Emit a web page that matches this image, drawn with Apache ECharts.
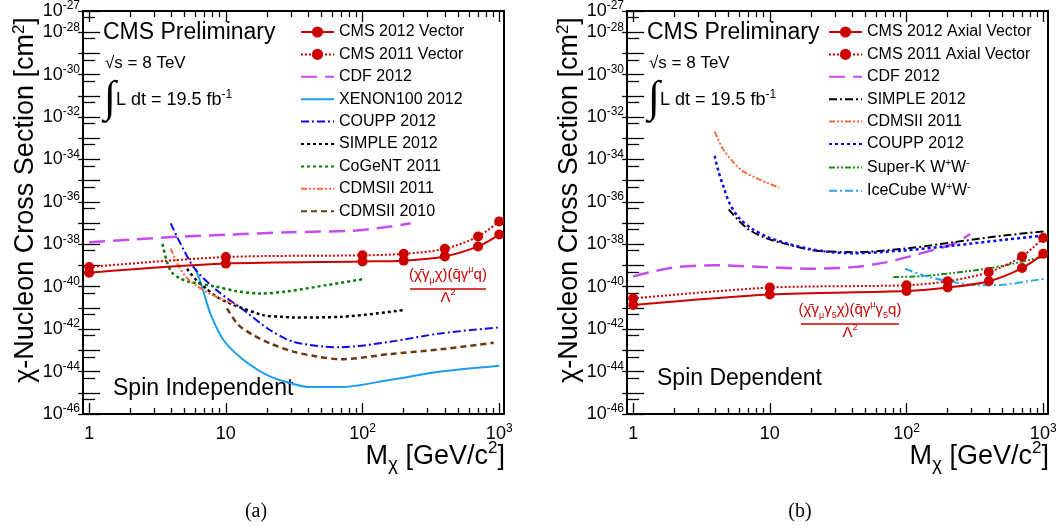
<!DOCTYPE html>
<html>
<head>
<meta charset="utf-8">
<script src="https://cdn.jsdelivr.net/npm/echarts@6.0.0/dist/echarts.min.js"></script>
<style>
  html, body { margin: 0; padding: 0; background: #fff; }
  #main { width: 1060px; height: 531px; }
</style>
</head>
<body>
<div id="main"></div>
<script type="text/javascript">
// x: dark matter mass [GeV], y: log10(cross section / cm^2)
var cmsMass = [1, 10, 100, 200, 400, 700, 1000];

// (a) spin independent
var siCms2012 = [-39.34, -38.91, -38.81, -38.77, -38.57, -38.10, -37.54];
var siCms2011 = [-39.07, -38.60, -38.52, -38.45, -38.21, -37.63, -36.92];
var siCdfMass = [1, 2, 5, 10, 30, 90, 160, 225];
var siCdf = [-37.90, -37.78, -37.63, -37.55, -37.43, -37.35, -37.16, -37.01];
var siXenonMass = [6, 6.7, 7.7, 9.6, 13.5, 21, 31, 41.5, 69, 160, 372, 1000];
var siXenon = [-39.15, -40.01, -41.26, -42.51, -43.45, -44.23, -44.58, -44.73, -44.73, -44.39, -44.0, -43.72];
var siCouppMass = [3.95, 5.8, 8.6, 13.5, 21, 31, 52, 69, 160, 372, 1000];
var siCoupp = [-37.01, -39.07, -40.17, -41.10, -42.04, -42.59, -42.82, -42.85, -42.59, -42.2, -41.92];
var siSimpleMass = [5.2, 6.1, 7.2, 8.6, 10.8, 18.8, 26, 31, 69, 200];
var siSimple = [-39.15, -39.70, -40.09, -40.48, -40.79, -41.34, -41.42, -41.45, -41.42, -41.10];
var siCogentMass = [3.44, 3.7, 4.0, 4.6, 5.5, 8.3, 11.7, 17.8, 28, 55, 100];
var siCogent = [-37.98, -38.8, -39.3, -39.6, -39.78, -39.98, -40.2, -40.32, -40.22, -39.92, -39.64];
var siCdms11Mass = [3.95, 4.5, 5.2, 6.1, 7.5, 9.6, 12];
var siCdms11 = [-38.2, -39.0, -39.6, -39.95, -40.3, -40.62, -40.85];
var siCdms10Mass = [10.2, 12.4, 15.9, 21, 31, 46.5, 69, 160, 372, 912];
var siCdms10 = [-41.02, -41.81, -42.28, -42.67, -43.06, -43.29, -43.42, -43.17, -42.95, -42.64];

// (b) spin dependent
var sdCms2012 = [-40.86, -40.37, -40.20, -40.04, -39.74, -39.12, -38.45];
var sdCms2011 = [-40.55, -40.04, -39.93, -39.74, -39.31, -38.57, -37.70];
var sdCdfMass = [1, 1.93, 4, 8.8, 19.3, 41, 72, 125, 220, 292];
var sdCdf = [-39.51, -39.10, -38.99, -39.07, -39.15, -39.07, -38.84, -38.44, -37.98, -37.51];
var sdSimpleMass = [5.0, 5.75, 7.0, 9.3, 13, 19.3, 23, 41, 95, 220, 510, 1050];
var sdSimple = [-36.35, -36.8, -37.3, -37.7, -37.98, -38.25, -38.32, -38.37, -38.21, -37.9, -37.59, -37.38];
var sdCdms11Mass = [3.95, 4.47, 5.3, 6.3, 7.8, 9.8, 11.7];
var sdCdms11 = [-32.69, -33.44, -34.07, -34.54, -34.85, -35.13, -35.32];
var sdCouppMass = [3.95, 4.2, 4.6, 5.1, 5.9, 7.4, 9.8, 13.7, 19.3, 28.5, 41, 95, 220, 510, 1050];
var sdCoupp = [-33.83, -34.54, -35.32, -36.10, -36.73, -37.27, -37.67, -37.98, -38.21, -38.37, -38.42, -38.29, -38.06, -37.79, -37.58];
var sdSuperKMass = [80, 125, 220, 386, 603, 950];
var sdSuperK = [-39.54, -39.51, -39.35, -39.15, -38.91, -38.62];
var sdIceCubeMass = [97.5, 140, 220, 345, 541, 847, 1050];
var sdIceCube = [-39.15, -39.51, -39.78, -39.93, -39.89, -39.70, -39.62];

// axis ticks (log10 units)
var xMajor = [0, 1, 2, 3];
var xMinor = [];
for (var d = 0; d < 3; d++) for (var k = 2; k <= 9; k++) xMinor.push(d + Math.log10(k));
var yMajor = [];
var yMinor = [];
for (var e = -46; e <= -27; e++) { yMajor.push(e); if (e < -27) yMinor.push(e + Math.log10(5)); }
var yLabels = [-46, -44, -42, -40, -38, -36, -34, -32, -30, -28, -27];

var FONT = '"Liberation Sans", Arial, Helvetica, sans-serif';
var RED = '#cc0000';
var X_MIN = -0.045, X_MAX = 3.035;

function pts(m, s) {
    return m.map(function (x, i) { return [Math.log10(x), s[i]]; });
}

function xAxes(g) {
    var base = function (pos, ticks, len, labels) {
        return {
            gridIndex: g, type: 'value', position: pos, min: X_MIN, max: X_MAX,
            axisLine: { show: false }, splitLine: { show: false },
            axisTick: { inside: true, length: len, customValues: ticks, lineStyle: { color: '#000', width: 1.3 } },
            axisLabel: labels ? {
                customValues: xMajor, margin: 9, color: '#000',
                formatter: function (v) {
                    var n = Math.round(v);
                    if (n === 0) return '{a|1}';
                    if (n === 1) return '{a|10}';
                    return '{a|10}{b|' + n + '}';
                },
                rich: {
                    a: { fontSize: 18, fontFamily: FONT, lineHeight: 22, color: '#000' },
                    b: { fontSize: 12, fontFamily: FONT, lineHeight: 12, verticalAlign: 'top', color: '#000' }
                }
            } : { show: false }
        };
    };
    return [base('bottom', xMajor, 11, true), base('bottom', xMinor, 6, false),
            base('top', xMajor, 11, false), base('top', xMinor, 6, false)];
}

function yAxes(g) {
    var base = function (pos, ticks, len, labels) {
        return {
            gridIndex: g, type: 'value', position: pos, min: -46, max: -27, interval: 1,
            axisLine: { show: false }, splitLine: { show: false },
            axisTick: { inside: true, length: len, customValues: ticks, lineStyle: { color: '#000', width: 1.3 } },
            axisLabel: labels ? {
                customValues: yLabels, margin: 3, color: '#000',
                formatter: function (v) { return '{a|10}{b|' + Math.round(v) + '}'; },
                rich: {
                    a: { fontSize: 18, fontFamily: FONT, lineHeight: 22, color: '#000' },
                    b: { fontSize: 12, fontFamily: FONT, lineHeight: 12, verticalAlign: 'top', color: '#000' }
                }
            } : { show: false }
        };
    };
    return [base('left', yMajor, 11, true), base('left', yMinor, 6, false),
            base('right', yMajor, 11, false), base('right', yMinor, 6, false)];
}

function line(name, g, m, s, color, width, dash, marks) {
    return {
        name: name, type: 'line', xAxisIndex: g * 4, yAxisIndex: g * 4,
        data: pts(m, s), smooth: 0.3,
        symbol: marks ? 'circle' : 'none', symbolSize: 10, showSymbol: !!marks,
        itemStyle: { color: color },
        lineStyle: { color: color, width: width, type: dash || 'solid' },
        z: marks ? 5 : 3
    };
}

var series = [
    line('CMS 2012 Vector', 0, cmsMass, siCms2012, RED, 2, 'solid', true),
    line('CMS 2011 Vector', 0, cmsMass, siCms2011, RED, 2, [2, 2], true),
    line('CDF 2012', 0, siCdfMass, siCdf, '#c64cf0', 2.5, [16, 8]),
    line('XENON100 2012', 0, siXenonMass, siXenon, '#1e9cf0', 2),
    line('COUPP 2012', 0, siCouppMass, siCoupp, '#0a0aee', 2, [8, 3, 2, 3]),
    line('SIMPLE 2012', 0, siSimpleMass, siSimple, '#000000', 2.5, [3, 3]),
    line('CoGeNT 2011', 0, siCogentMass, siCogent, '#0a7a0a', 2.5, [3, 3]),
    line('CDMSII 2011', 0, siCdms11Mass, siCdms11, '#ff6a3a', 2, [6, 2, 2, 2, 2, 2]),
    line('CDMSII 2010', 0, siCdms10Mass, siCdms10, '#6b3a10', 2.5, [6, 4]),

    line('CMS 2012 Axial Vector', 1, cmsMass, sdCms2012, RED, 2, 'solid', true),
    line('CMS 2011 Axial Vector', 1, cmsMass, sdCms2011, RED, 2, [2, 2], true),
    line('CDF 2012 ', 1, sdCdfMass, sdCdf, '#c64cf0', 2.5, [16, 8]),
    line('SIMPLE 2012 ', 1, sdSimpleMass, sdSimple, '#000000', 2, [8, 3, 2, 3]),
    line('CDMSII 2011 ', 1, sdCdms11Mass, sdCdms11, '#ff6a3a', 2, [6, 2, 2, 2, 2, 2]),
    line('COUPP 2012 ', 1, sdCouppMass, sdCoupp, '#0a0aee', 2.5, [3, 3]),
    line('Super-K W+W-', 1, sdSuperKMass, sdSuperK, '#1a8c1a', 2, [6, 2, 2, 2, 2, 2]),
    line('IceCube W+W-', 1, sdIceCubeMass, sdIceCube, '#29a8f0', 2, [8, 3, 2, 3])
];

// legend items: only the CMS curves carry a marker
function legendItems(names) {
    return names.map(function (n) {
        return n.indexOf('CMS') === 0 ? { name: n } : { name: n, itemStyle: { opacity: 0 } };
    });
}

function legend(left, names) {
    return {
        orient: 'vertical', left: left, top: 24, padding: 0,
        itemWidth: 33, itemHeight: 14, itemGap: 6.4,
        data: legendItems(names),
        formatter: function (name) {
            var n = name.trim();
            if (n.indexOf('W+W-') >= 0) return '{n|' + n.replace('W+W-', 'W') + '}{s|+}{n|W}{s|-}';
            return '{n|' + n + '}';
        },
        textStyle: {
            color: '#000', fontFamily: FONT, fontSize: 16,
            rich: {
                n: { fontSize: 16, fontFamily: FONT, lineHeight: 18, color: '#000' },
                s: { fontSize: 10, fontFamily: FONT, lineHeight: 10, verticalAlign: 'top', color: '#000' }
            }
        }
    };
}

var sup = { fontSize: 12, fontFamily: FONT, lineHeight: 12, verticalAlign: 'top', fill: '#000' };

function panelText(dx, spinText, spinY, letter) {
    return [
        { type: 'text', x: 103 + dx, y: 33, style: { text: 'CMS Preliminary', font: '23px ' + FONT, fill: '#000', verticalAlign: 'middle' } },
        { type: 'text', x: 105 + dx, y: 63, style: { text: '√s = 8 TeV', font: '17px ' + FONT, fill: '#000', verticalAlign: 'middle' } },
        { type: 'text', x: 110 + dx, y: 99, style: { text: '∫', font: '44px "Liberation Serif", serif', fill: '#000', align: 'center', verticalAlign: 'middle' } },
        { type: 'text', x: 116 + dx, y: 100, style: {
            text: '{a|L dt = 19.5 fb}{b|-1}', verticalAlign: 'middle',
            rich: { a: { fontSize: 18, fontFamily: FONT, lineHeight: 22, fill: '#000' }, b: sup } } },
        { type: 'text', x: 113 + dx, y: spinY, style: { text: spinText, font: '23px ' + FONT, fill: '#000', verticalAlign: 'middle' } },
        { type: 'text', x: 256 + dx, y: 512, style: { text: letter, font: '20px "Liberation Serif", serif', fill: '#000', align: 'center', verticalAlign: 'middle' } },
        { type: 'text', x: 26 + dx, y: 200, rotation: Math.PI / 2, style: {
            text: '{a|χ-Nucleon Cross Section [cm}{b|2}{a|]}', align: 'center', verticalAlign: 'middle',
            rich: { a: { fontSize: 27, fontFamily: FONT, lineHeight: 30, fill: '#000' },
                    b: { fontSize: 17, fontFamily: FONT, lineHeight: 17, verticalAlign: 'top', fill: '#000' } } } },
        { type: 'text', x: 505 + dx, y: 457, style: {
            text: '{a|M}{c|χ}{a| [GeV/c}{b|2}{a|]}', align: 'right', verticalAlign: 'middle',
            rich: { a: { fontSize: 27, fontFamily: FONT, lineHeight: 34, fill: '#000' },
                    b: { fontSize: 17, fontFamily: FONT, lineHeight: 17, verticalAlign: 'top', fill: '#000' },
                    c: { fontSize: 19, fontFamily: FONT, lineHeight: 19, verticalAlign: 'bottom', fill: '#000' } } } }
    ];
}

var fRich = {
    t: { fontSize: 15, fontFamily: FONT, lineHeight: 20, fill: RED },
    d: { fontSize: 9, fontFamily: FONT, lineHeight: 9, verticalAlign: 'bottom', fill: RED },
    u: { fontSize: 9, fontFamily: FONT, lineHeight: 9, verticalAlign: 'top', fill: RED }
};

function formula(cx, cy, text, half) {
    return [
        { type: 'text', x: cx, y: cy - 14, style: { text: text, align: 'center', verticalAlign: 'middle', rich: fRich } },
        { type: 'line', shape: { x1: cx - half, y1: cy, x2: cx + half, y2: cy }, style: { stroke: RED, lineWidth: 1.5 } },
        { type: 'text', x: cx, y: cy + 9, style: { text: '{t|Λ}{u|2}', align: 'center', verticalAlign: 'middle', rich: fRich } }
    ];
}

var graphics = [].concat(
    panelText(0, 'Spin Independent', 389, '(a)'),
    panelText(544, 'Spin Dependent', 379, '(b)'),
    formula(448, 289, '{t|(χ\u0304γ}{d|μ}{t|χ)(q\u0304γ}{u|μ}{t|q)}', 38),
    formula(850, 324, '{t|(χ\u0304γ}{d|μ}{t|γ}{d|5}{t|χ)(q\u0304γ}{u|μ}{t|γ}{d|5}{t|q)}', 49)
);

var chart = echarts.init(document.getElementById('main'));
chart.setOption({
    animation: false,
    backgroundColor: '#fff',
    grid: [
        { left: 83, top: 9, width: 421, height: 405, show: true, borderColor: '#000', borderWidth: 2 },
        { left: 627, top: 9, width: 421, height: 405, show: true, borderColor: '#000', borderWidth: 2 }
    ],
    xAxis: xAxes(0).concat(xAxes(1)),
    yAxis: yAxes(0).concat(yAxes(1)),
    legend: [
        legend(300, ['CMS 2012 Vector', 'CMS 2011 Vector', 'CDF 2012', 'XENON100 2012', 'COUPP 2012',
                     'SIMPLE 2012', 'CoGeNT 2011', 'CDMSII 2011', 'CDMSII 2010']),
        legend(828, ['CMS 2012 Axial Vector', 'CMS 2011 Axial Vector', 'CDF 2012 ', 'SIMPLE 2012 ',
                     'CDMSII 2011 ', 'COUPP 2012 ', 'Super-K W+W-', 'IceCube W+W-'])
    ],
    series: series,
    graphic: graphics
});
</script>
</body>
</html>
